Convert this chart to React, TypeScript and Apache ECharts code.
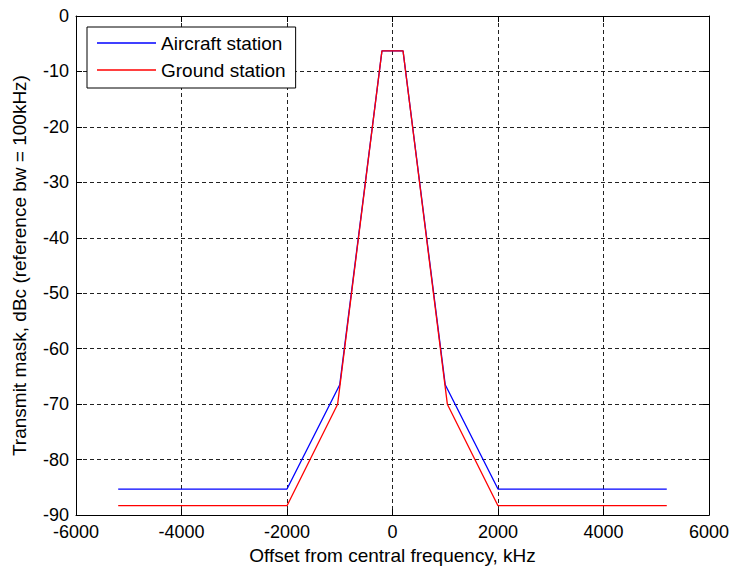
import React, { useEffect, useRef } from "react";
import * as echarts from "echarts";

// Offset from central frequency (kHz) and transmit mask level (dBc)
const freqAircraft = [-5200, -2000, -1000, -200, 200, 1000, 2000, 5200];
const maskAircraft = [-85.3, -85.3, -66.5, -6.3, -6.3, -66.5, -85.3, -85.3];
const freqGround = [-5200, -2000, -1040, -200, 200, 1040, 2000, 5200];
const maskGround = [-88.3, -88.3, -70, -6.3, -6.3, -70, -88.3, -88.3];
const seriesNames = ["Aircraft station", "Ground station"];
const xRange = [-6000, 6000, 2000];
const yRange = [-90, 0, 10];
const xTitle = "Offset from central frequency, kHz";
const yTitle = "Transmit mask, dBc (reference bw = 100kHz)";

const FONT = "Liberation Sans, Arial, sans-serif";

export default function App() {
  const ref = useRef<HTMLDivElement>(null);
  useEffect(() => {
    if (!ref.current) return;
    const chart = echarts.init(ref.current, null, { renderer: "svg" });
    const pair = (xs: number[], ys: number[]) => xs.map((x, i) => [x, ys[i]]);
    const tick = { show: true, inside: true, length: 6, lineStyle: { color: "#000" } };
    const axLine = { show: true, onZero: false, lineStyle: { color: "#000", width: 1 } };
    const grid = { show: true, lineStyle: { color: "#222", type: [4, 3] as any, width: 1 } };
    const label = {
      color: "#000",
      fontSize: 18,
      fontFamily: FONT,
      lineHeight: 14,
      formatter: (v: number) => String(v),
    };
    chart.setOption({
      animation: false,
      backgroundColor: "#fff",
      textStyle: { fontFamily: FONT },
      grid: { left: 76, right: 21, top: 16, bottom: 54, containLabel: false },
      legend: {
        show: true,
        data: seriesNames,
        orient: "vertical",
        left: 87,
        top: 27,
        icon: "rect",
        itemWidth: 59,
        itemHeight: 1.4,
        itemGap: 5,
        padding: [5, 10, 7, 10],
        borderColor: "#000",
        borderWidth: 1,
        borderRadius: 0,
        backgroundColor: "#fff",
        textStyle: { color: "#000", fontSize: 19, fontFamily: FONT, lineHeight: 22 },
      },
      xAxis: [
        {
          type: "value",
          min: xRange[0],
          max: xRange[1],
          interval: xRange[2],
          position: "bottom",
          axisLine: axLine,
          axisTick: tick,
          axisLabel: { ...label, margin: 10 },
          splitLine: grid,
          name: xTitle,
          nameLocation: "middle",
          nameGap: 27,
          nameTextStyle: { color: "#000", fontSize: 19, fontFamily: FONT },
        },
        {
          type: "value",
          min: xRange[0],
          max: xRange[1],
          interval: xRange[2],
          position: "top",
          axisLine: axLine,
          axisTick: tick,
          axisLabel: { show: false },
          splitLine: { show: false },
        },
      ],
      yAxis: [
        {
          type: "value",
          min: yRange[0],
          max: yRange[1],
          interval: yRange[2],
          position: "left",
          axisLine: axLine,
          axisTick: tick,
          axisLabel: { ...label, margin: 7 },
          splitLine: grid,
          name: yTitle,
          nameLocation: "middle",
          nameGap: 47,
          nameTextStyle: { color: "#000", fontSize: 19, fontFamily: FONT },
        },
        {
          type: "value",
          min: yRange[0],
          max: yRange[1],
          interval: yRange[2],
          position: "right",
          axisLine: axLine,
          axisTick: tick,
          axisLabel: { show: false },
          splitLine: { show: false },
        },
      ],
      series: [
        {
          name: seriesNames[0],
          type: "line",
          data: pair(freqAircraft, maskAircraft),
          symbol: "none",
          lineStyle: { color: "#0000ff", width: 1.3 },
          itemStyle: { color: "#0000ff" },
          z: 3,
        },
        {
          name: seriesNames[1],
          type: "line",
          data: pair(freqGround, maskGround),
          symbol: "none",
          lineStyle: { color: "#ff0000", width: 1.3 },
          itemStyle: { color: "#ff0000" },
          z: 4,
        },
      ],
    });
    return () => chart.dispose();
  }, []);
  return (
    <div
      ref={ref}
      style={{ position: "fixed", left: 0, top: 0, width: 732, height: 570, background: "#fff" }}
    />
  );
}
